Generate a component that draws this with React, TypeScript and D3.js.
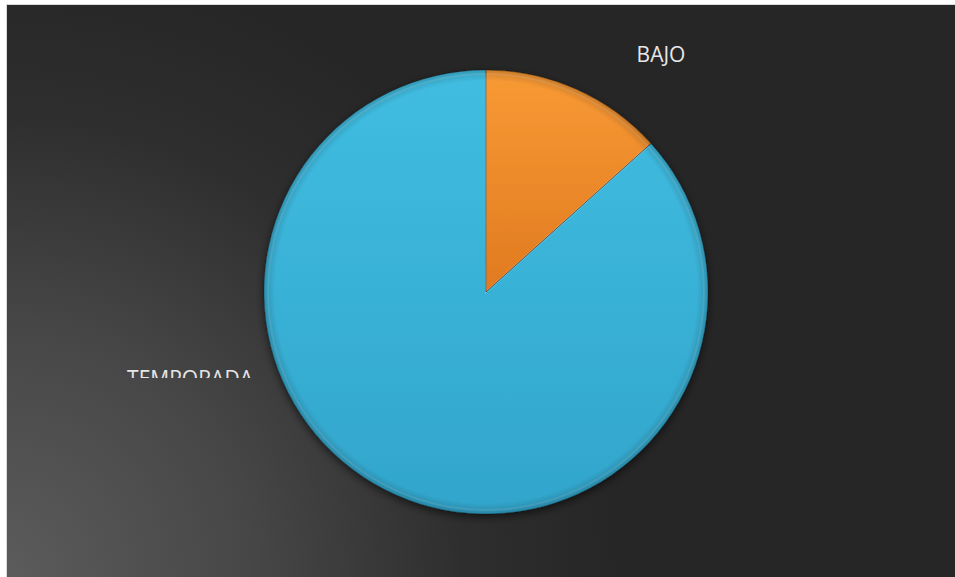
import React from "react";
import * as d3 from "d3";

const categories = ["BAJO", "TEMPORADA"];
const values = [2, 13];
const colors = ["#F89A35", "#40BDE1"];
const darkColors = ["#E07A20", "#32A5CB"];

const W = 955;
const H = 577;

export default function App() {
  const cx = 486;
  const cy = 292;
  const r = 222;
  const pie = d3.pie<number>().sort(null)(values);
  const arc = d3.arc<d3.PieArcDatum<number>>().innerRadius(0).outerRadius(r);
  const innerArc = d3.arc<d3.PieArcDatum<number>>().innerRadius(0).outerRadius(r - 4);
  return (
    <svg width={W} height={H} style={{ position: "absolute", left: 0, top: 0 }}>
      <defs>
        <radialGradient id="bg" cx={0} cy={H} r={620} gradientUnits="userSpaceOnUse">
          <stop offset="0" stopColor="#5c5c5c" />
          <stop offset="0.4" stopColor="#474747" />
          <stop offset="0.75" stopColor="#2e2e2e" />
          <stop offset="1" stopColor="#262626" />
        </radialGradient>
        {categories.map((c, i) => (
          <linearGradient key={c} id={`g${i}`} x1="0" y1="0" x2="0" y2="1">
            <stop offset="0" stopColor={colors[i]} />
            <stop offset="1" stopColor={darkColors[i]} />
          </linearGradient>
        ))}
        <radialGradient id="rim" cx="0.5" cy="0.5" r="0.5">
          <stop offset="0.95" stopColor="#000" stopOpacity="0" />
          <stop offset="1" stopColor="#000" stopOpacity="0.18" />
        </radialGradient>
        <filter id="shadow" x="-20%" y="-20%" width="140%" height="140%">
          <feDropShadow dx="0" dy="3" stdDeviation="4" floodColor="#000" floodOpacity="0.6" />
        </filter>
        <clipPath id="lblclip">
          <rect x={0} y={0} width={W} height={378} />
        </clipPath>
      </defs>
      <rect x={0} y={0} width={W} height={H} fill="#ffffff" />
      <rect x={6} y={4} width={W - 6} height={H - 4} fill="#d9d9d9" />
      <rect x={7} y={5} width={W - 7} height={H - 5} fill="url(#bg)" />
      <g transform={`translate(${cx},${cy})`}>
        <g filter="url(#shadow)">
          {pie.map((d, i) => (
            <path key={categories[i]} d={arc(d) || ""} fill={`url(#g${i})`} />
          ))}
        </g>
        {pie.map((d, i) => (
          <path key={"h" + i} d={innerArc(d) || ""} fill="none" stroke="#ffffff" strokeOpacity={0.12} strokeWidth={2} />
        ))}
        <circle r={r} fill="url(#rim)" />
        {pie.map((d, i) => (
          <path key={"s" + i} d={arc(d) || ""} fill="none" stroke="#000" strokeOpacity={0.25} strokeWidth={1} />
        ))}
      </g>
      <text x={661} y={62} textAnchor="middle" fill="#e6e6e6" fontFamily="Open Sans, Liberation Sans, sans-serif" fontSize={21}>
        {categories[0]}
      </text>
      <g clipPath="url(#lblclip)">
        <text x={190} y={386} textAnchor="middle" fill="#e6e6e6" fontFamily="Open Sans, Liberation Sans, sans-serif" fontSize={21}>
          {categories[1]}
        </text>
      </g>
    </svg>
  );
}
